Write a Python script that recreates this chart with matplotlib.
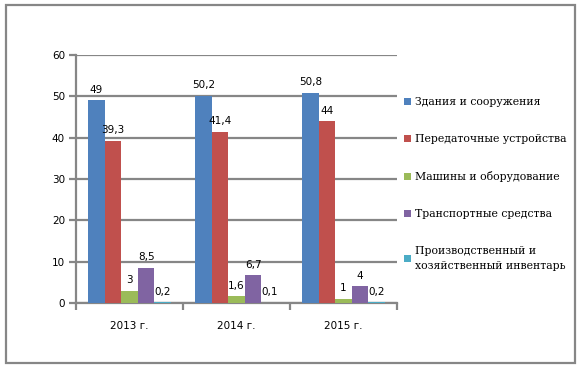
import matplotlib
matplotlib.use("Agg")
import matplotlib.pyplot as plt
from matplotlib.patches import Rectangle
import numpy as np

years = ["2013 г.", "2014 г.", "2015 г."]
series = ["Здания и сооружения", "Передаточные устройства",
          "Машины и оборудование", "Транспортные средства",
          "Производственный и\nхозяйственный инвентарь"]
buildings = [49, 50.2, 50.8]
transfer = [39.3, 41.4, 44]
machines = [3, 1.6, 1]
transport = [8.5, 6.7, 4]
inventory = [0.2, 0.1, 0.2]
values = [buildings, transfer, machines, transport, inventory]
COLORS = ["#4F81BD", "#C0504D", "#9BBB59", "#8064A2", "#4BACC6"]
GRID = "#868686"

fig = plt.figure(figsize=(5.82, 3.68), dpi=100)
fig.patches.append(Rectangle((6 / 582, 5 / 368), 569 / 582, 358 / 368,
                             transform=fig.transFigure, fill=False,
                             edgecolor=GRID, linewidth=1.6))

ax = fig.add_axes([76 / 582, 1 - 303 / 368, 321 / 582, 248 / 368])
x = np.arange(len(years))
w = 0.155

def fmt(v):
    s = ("%g" % v).replace(".", ",")
    return s

handles = []
for i, (vals, name) in enumerate(zip(values, series)):
    pos = x + (i - 2) * w
    b = ax.bar(pos, vals, w, color=COLORS[i], label=name, zorder=3)
    handles.append(b)
    for px, v in zip(pos, vals):
        ax.annotate(fmt(v), (px, v), xytext=(0, 4), textcoords="offset points",
                    ha="center", va="bottom", fontsize=7.5, family="DejaVu Sans")

ax.set_xlim(-0.5, 2.5)
ax.set_ylim(0, 60)
ax.set_yticks(range(0, 61, 10))
ax.yaxis.grid(True, color=GRID, linewidth=1.6, zorder=0)
ax.set_axisbelow(True)

ax.set_xticks([-0.5, 0.5, 1.5, 2.5])
ax.set_xticklabels([])
ax.set_xticks(x, minor=True)
ax.set_xticklabels(years, minor=True)
ax.tick_params(axis="x", which="major", length=5, width=1.6, color=GRID)
ax.tick_params(axis="x", which="minor", length=0, pad=13, labelsize=7.5)
ax.tick_params(axis="y", length=5, width=1.6, color=GRID, labelsize=7.5, pad=3)

for s in ["top", "right"]:
    ax.spines[s].set_visible(False)
for s in ["left", "bottom"]:
    ax.spines[s].set_color(GRID)
    ax.spines[s].set_linewidth(1.6)

leg = fig.legend(handles=handles, loc="upper left", bbox_to_anchor=(404 / 582, 1 - 97 / 368),
                 frameon=False, prop={"family": "DejaVu Serif", "size": 7.8},
                 handlelength=0.6, handleheight=0.6, handletextpad=0.45,
                 labelspacing=2.5, borderpad=0, borderaxespad=0)
for t in leg.get_texts():
    t.set_linespacing(1.55)

fig.savefig("out.png", dpi=100)
